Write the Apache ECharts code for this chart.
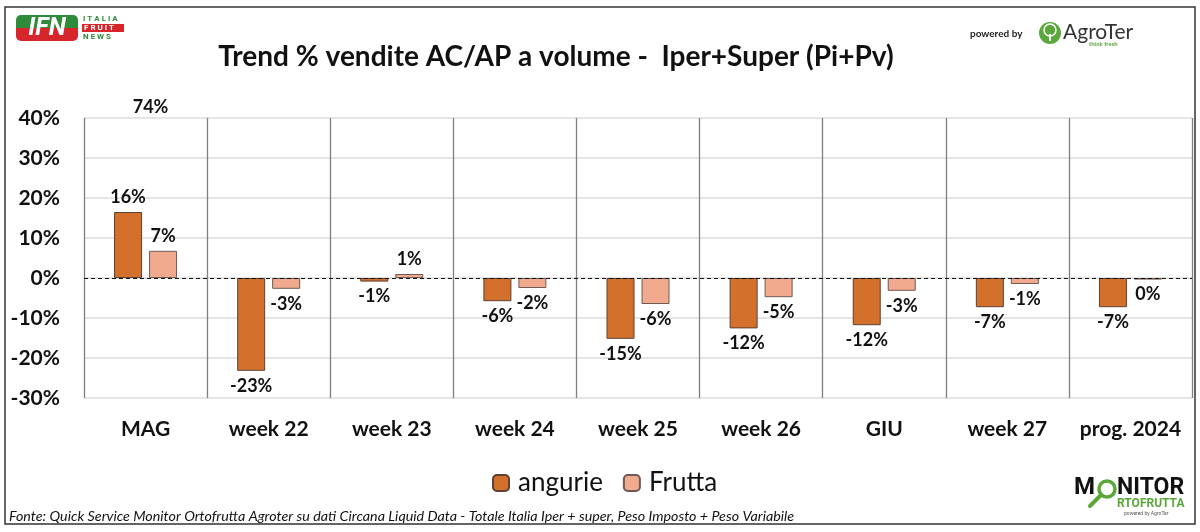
<!DOCTYPE html>
<html>
<head>
<meta charset="utf-8">
<script src="https://cdn.jsdelivr.net/npm/echarts@6/dist/echarts.min.js"></script>
<style>
html,body{margin:0;padding:0;background:#fff;}
#chart{width:1200px;height:532px;}
</style>
</head>
<body>
<div id="chart"></div>
<script>
const categories = ['MAG', 'week 22', 'week 23', 'week 24', 'week 25', 'week 26', 'GIU', 'week 27', 'prog. 2024'];
const angurie = [16.5, -23.2, -0.9, -5.8, -15.2, -12.6, -11.8, -7.3, -7.3];
const frutta = [6.8, -2.7, 1.0, -2.5, -6.5, -4.8, -3.2, -1.5, -0.4];
const angurieLabels = ['16%', '-23%', '-1%', '-6%', '-15%', '-12%', '-12%', '-7%', '-7%'];
const fruttaLabels = ['7%', '-3%', '1%', '-2%', '-6%', '-5%', '-3%', '-1%', '0%'];
const seriesNames = ['angurie', 'Frutta'];
const outlierCategory = 'MAG';
const outlierText = '74%';
const yMin = -30, yMax = 40, yStep = 10;

const FONT = 'Lato, "Open Sans", sans-serif';
const chart = echarts.init(document.getElementById('chart'), null, {renderer: 'canvas'});

function mk(values, labels) {
  return values.map((v, i) => ({
    value: v,
    label: {position: v < 0 ? 'bottom' : 'top', formatter: labels[i]}
  }));
}

const labelStyle = {show: true, fontFamily: FONT, fontWeight: 'bold', fontSize: 18, color: '#111', distance: 6};

const option = {
  animation: false,
  backgroundColor: '#fff',
  title: {
    text: 'Trend % vendite AC/AP a volume -  Iper+Super (Pi+Pv)',
    left: 551, top: 38, textAlign: 'center',
    textStyle: {fontFamily: FONT, fontWeight: 'bold', fontSize: 28, color: '#111'}
  },
  legend: {
    data: seriesNames,
    left: 487, top: 465,
    itemWidth: 16, itemHeight: 16, itemGap: 20,
    textStyle: {fontFamily: FONT, fontSize: 26, color: '#111', padding: [0, 0, 0, 4]}
  },
  grid: {left: 84, right: 8, top: 118, bottom: 134, containLabel: false},
  xAxis: {
    type: 'category',
    data: categories,
    axisLine: {show: false},
    axisTick: {show: false},
    axisLabel: {interval: 0, fontFamily: FONT, fontWeight: 'bold', fontSize: 21, color: '#111', margin: 21},
    splitLine: {show: true, interval: 0, lineStyle: {color: '#7f7f7f', width: 1.3}}
  },
  yAxis: {
    type: 'value',
    min: yMin, max: yMax, interval: yStep,
    axisLine: {show: false},
    axisTick: {show: false},
    axisLabel: {fontFamily: FONT, fontWeight: 'bold', fontSize: 21, color: '#111', margin: 24, formatter: '{value}%'},
    splitLine: {lineStyle: {color: '#dcdcdc', width: 1.5}}
  },
  series: [
    {
      name: seriesNames[0], type: 'bar',
      data: mk(angurie, angurieLabels),
      barWidth: 28, barGap: '25%',
      itemStyle: {color: '#D2702C', borderColor: '#5e4034', borderWidth: 1},
      label: labelStyle,
      markLine: {
        silent: true, symbol: 'none', label: {show: false},
        lineStyle: {color: '#111', type: [4, 3], width: 1.2},
        data: [{yAxis: 0}]
      },
      z: 3
    },
    {
      name: seriesNames[1], type: 'bar',
      data: mk(frutta, fruttaLabels),
      barWidth: 28,
      itemStyle: {color: '#F2AA8E', borderColor: '#6e5a54', borderWidth: 1},
      label: labelStyle,
      z: 3
    }
  ]
};
chart.setOption(option);

// outlier label (value beyond axis max) and decorations
const p = chart.convertToPixel({xAxisIndex: 0, yAxisIndex: 0}, [outlierCategory, yMax]);
chart.setOption({
  graphic: [
    // outer frame
    {type: 'rect', shape: {x: 5, y: 7, width: 1190, height: 517}, style: {fill: 'none', stroke: '#333', lineWidth: 1.5}, z: 100},
    // outlier label
    {type: 'text', x: p[0] + 5, y: p[1] - 11, style: {text: outlierText, font: 'bold 18px ' + FONT, fill: '#111', textAlign: 'center', textVerticalAlign: 'middle'}},
    // footer
    {type: 'text', x: 9, y: 516, style: {text: 'Fonte: Quick Service Monitor Ortofrutta Agroter su dati Circana Liquid Data - Totale Italia Iper + super, Peso Imposto + Peso Variabile', font: 'italic 14.3px ' + FONT, fill: '#111', textVerticalAlign: 'middle'}},
    // IFN logo
    {type: 'group', x: 16, y: 15, children: [
      {type: 'rect', shape: {x: 0, y: 0, width: 62, height: 13, r: [5, 5, 0, 0]}, style: {fill: '#2e8b3a'}},
      {type: 'rect', shape: {x: 0, y: 13, width: 62, height: 13, r: [0, 0, 5, 5]}, style: {fill: '#d7262b'}},
      {type: 'text', x: 31, y: 14, style: {text: 'IFN', font: 'italic bold 25px Roboto, sans-serif', fill: '#fff', textAlign: 'center', textVerticalAlign: 'middle'}},
      {type: 'text', x: 67, y: 4, style: {text: 'I T A L I A', font: 'bold 8px Roboto, sans-serif', fill: '#2e8b3a', textVerticalAlign: 'middle'}},
      {type: 'rect', shape: {x: 66, y: 9, width: 42, height: 8}, style: {fill: '#d7262b'}},
      {type: 'text', x: 68, y: 13, style: {text: 'F R U I T', font: 'bold 8px Roboto, sans-serif', fill: '#fff', textVerticalAlign: 'middle'}},
      {type: 'text', x: 67, y: 22, style: {text: 'N E W S', font: 'bold 8px Roboto, sans-serif', fill: '#2e8b3a', textVerticalAlign: 'middle'}}
    ]},
    // AgroTer logo
    {type: 'text', x: 970, y: 34, style: {text: 'powered by', font: 'bold 10px ' + FONT, fill: '#222', textVerticalAlign: 'middle'}},
    {type: 'circle', shape: {cx: 1050, cy: 33, r: 11}, style: {fill: '#5aa83a'}},
    {type: 'circle', shape: {cx: 1050, cy: 30, r: 6}, style: {fill: 'none', stroke: '#fff', lineWidth: 1.5}},
    {type: 'rect', shape: {x: 1049, y: 34, width: 2, height: 7}, style: {fill: '#fff'}},
    {type: 'text', x: 1063, y: 32, style: {text: 'AgroTer', font: '21px ' + FONT, fill: '#333', textVerticalAlign: 'middle'}},
    {type: 'text', x: 1089, y: 44, style: {text: 'think fresh', font: 'bold 6px ' + FONT, fill: '#5aa83a', textVerticalAlign: 'middle'}},
    // MONITOR ORTOFRUTTA logo
    {type: 'text', x: 1074, y: 488, style: {text: 'M', font: 'bold 24px Roboto, sans-serif', fill: '#111', textVerticalAlign: 'middle'}},
    {type: 'circle', shape: {cx: 1107, cy: 489, r: 8}, style: {fill: 'none', stroke: '#5aa83a', lineWidth: 3.5}},
    {type: 'line', shape: {x1: 1101, y1: 495, x2: 1090, y2: 506}, style: {stroke: '#5aa83a', lineWidth: 4, lineCap: 'round'}},
    {type: 'text', x: 1117, y: 488, style: {text: 'NITOR', font: 'bold 23px Roboto, sans-serif', fill: '#111', textVerticalAlign: 'middle'}},
    {type: 'text', x: 1117, y: 504, style: {text: 'RTOFRUTTA', font: 'bold 12px Roboto, sans-serif', fill: '#5aa83a', textVerticalAlign: 'middle'}},
    {type: 'text', x: 1124, y: 514, style: {text: 'powered by AgroTer', font: '5px Roboto, sans-serif', fill: '#555', textVerticalAlign: 'middle'}}
  ]
});
</script>
</body>
</html>
